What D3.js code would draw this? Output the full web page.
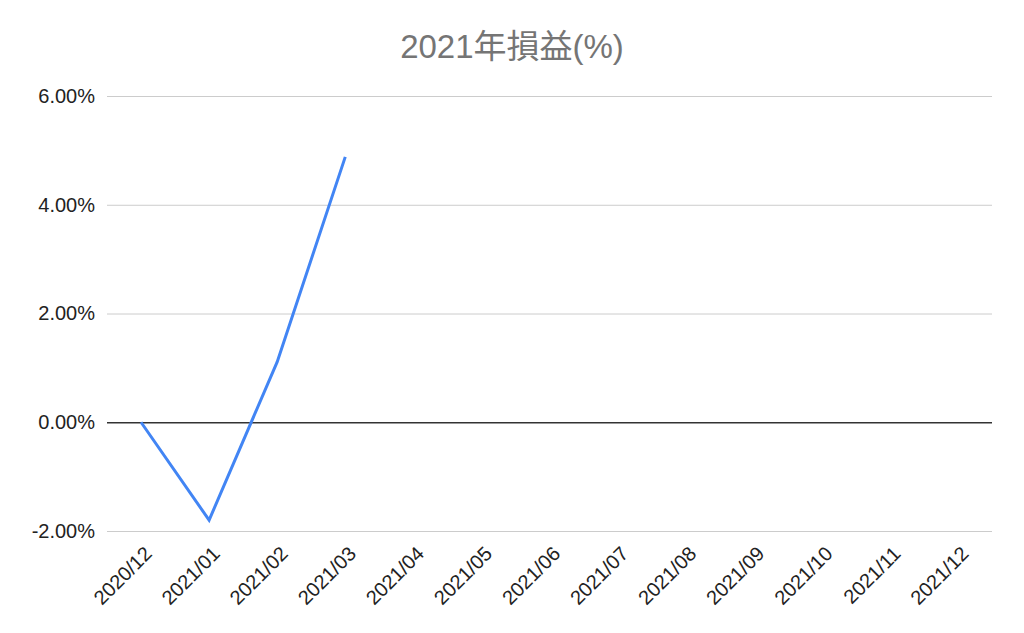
<!DOCTYPE html>
<html>
<head>
<meta charset="utf-8">
<script src="https://cdn.jsdelivr.net/npm/d3@7"></script>
<style>
  body { margin: 0; background: #fff; }
  svg { display: block; }
</style>
</head>
<body>
<svg id="chart" width="1024" height="633"></svg>
<script>
const categories = ["2020/12","2021/01","2021/02","2021/03","2021/04","2021/05","2021/06","2021/07","2021/08","2021/09","2021/10","2021/11","2021/12"];
const values = [0, -1.80, 1.11, 4.88];
const yTicks = [-2, 0, 2, 4, 6];
const title = "2021年損益(%)";

const svg = d3.select("#chart");
const margin = {left: 107, right: 32, top: 96, bottom: 102};
const W = 1024, H = 633;

const x = d3.scaleBand().domain(categories).range([margin.left, W - margin.right]);
const y = d3.scaleLinear().domain([-2, 6]).range([H - margin.bottom, margin.top]);

const font = "Arial, 'Liberation Sans', 'Noto Sans CJK JP', sans-serif";

svg.append("text")
  .attr("x", 512).attr("y", 58)
  .attr("text-anchor", "middle")
  .attr("font-family", font)
  .attr("font-size", 33)
  .attr("fill", "#757575")
  .text(title);

// gridlines
const yAxis = d3.axisLeft(y).tickValues(yTicks).tickSize(-(W - margin.left - margin.right))
  .tickFormat(d => d.toFixed(2) + "%");
const gy = svg.append("g").attr("transform", `translate(${margin.left},0)`).call(yAxis);
gy.select(".domain").remove();
gy.selectAll(".tick line").attr("stroke", d => d === 0 ? "#333" : "#ccc").attr("stroke-width", d => d === 0 ? 1.3 : 1);
gy.selectAll(".tick text")
  .attr("x", -12)
  .attr("font-family", font)
  .attr("font-size", 20)
  .attr("fill", "#222");

// x axis labels
const xAxis = d3.axisBottom(x).tickSize(0);
const gx = svg.append("g").attr("transform", `translate(0,${H - margin.bottom})`).call(xAxis);
gx.select(".domain").remove();
gx.selectAll(".tick text")
  .attr("font-family", font)
  .attr("font-size", 20)
  .attr("fill", "#222")
  .attr("text-anchor", "end")
  .attr("dy", 0)
  .attr("y", 0)
  .attr("transform", "translate(12,24) rotate(-45)");

// line
const line = d3.line()
  .x((d, i) => x(categories[i]) + x.bandwidth() / 2)
  .y(d => y(d));
svg.append("path")
  .datum(values)
  .attr("fill", "none")
  .attr("stroke", "#4285F4")
  .attr("stroke-width", 3)
  .attr("stroke-linejoin", "miter")
  .attr("d", line);
</script>
</body>
</html>
